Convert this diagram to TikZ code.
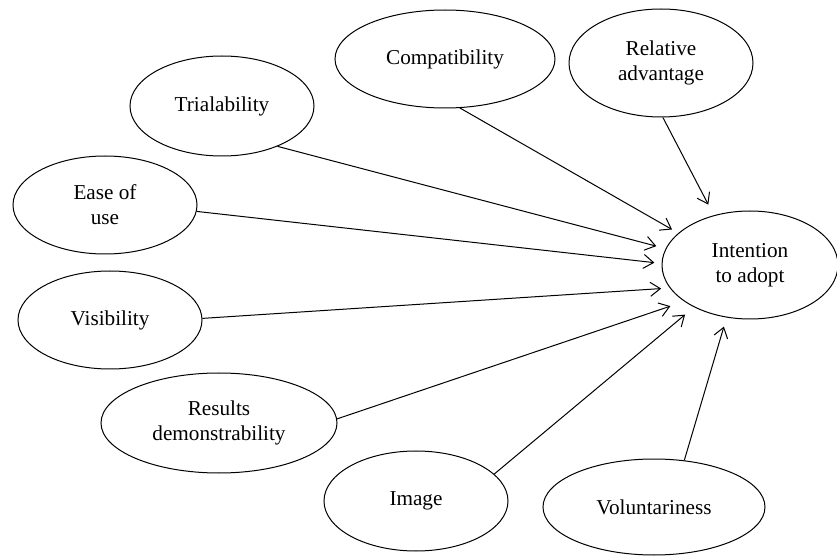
\documentclass[tikz,border=0pt]{standalone}
\usepackage{fontspec}
\setmainfont{Liberation Serif}
\usetikzlibrary{shapes.geometric, arrows.meta}

\begin{document}
\begin{tikzpicture}[x=0.5pt, y=-0.5pt,
    oval/.style={draw, ellipse, inner sep=0pt, align=center, line width=0.5pt,
        font=\fontsize{10.6}{12.6}\selectfont},
    arr/.style={-{Straight Barb[length=5pt, width=7pt]}, line width=0.5pt}]
    \useasboundingbox (0, 0) rectangle (837, 556);

    % Factors
    \node[oval, minimum width=110pt, minimum height=49pt] (comp) at (445, 59) {Compatibility};
    \node[oval, minimum width=92pt, minimum height=54pt] (reladv) at (661, 63) {Relative\\advantage};
    \node[oval, minimum width=92pt, minimum height=50pt] (trial) at (222, 106) {Trialability};
    \node[oval, minimum width=92pt, minimum height=49pt] (ease) at (105, 205) {Ease of\\use};
    \node[oval, minimum width=92pt, minimum height=49pt] (vis) at (110, 320) {Visibility};
    \node[oval, minimum width=118pt, minimum height=50pt] (res) at (219, 423) {Results\\demonstrability};
    \node[oval, minimum width=92pt, minimum height=50pt] (img) at (416, 501) {Image};
    \node[oval, minimum width=111pt, minimum height=48pt] (vol) at (654, 507) {Voluntariness};

    % Outcome
    \node[oval, minimum width=88pt, minimum height=54pt] (itn) at (750, 265) {Intention\\to adopt};

    % Paths into the outcome
    \draw[arr, shorten >=3.6pt] (comp.-73) -- (itn.156);
    \draw[arr, shorten >=6pt] (reladv.-88) -- (itn.126);
    \draw[arr, shorten >=4.8pt] (trial.-36) -- (itn.169);
    \draw[arr, shorten >=3.6pt] (ease.-4) -- (itn.179);
    \draw[arr, shorten >=4.3pt] (vis.1) -- (itn.196);
    \draw[arr, shorten >=7.3pt] (res.2) -- (itn.209);
    \draw[arr, shorten >=5.8pt] (img.19) -- (itn.217);
    \draw[arr, shorten >=4.7pt] (vol.57) -- (itn.246);
\end{tikzpicture}
\end{document}
